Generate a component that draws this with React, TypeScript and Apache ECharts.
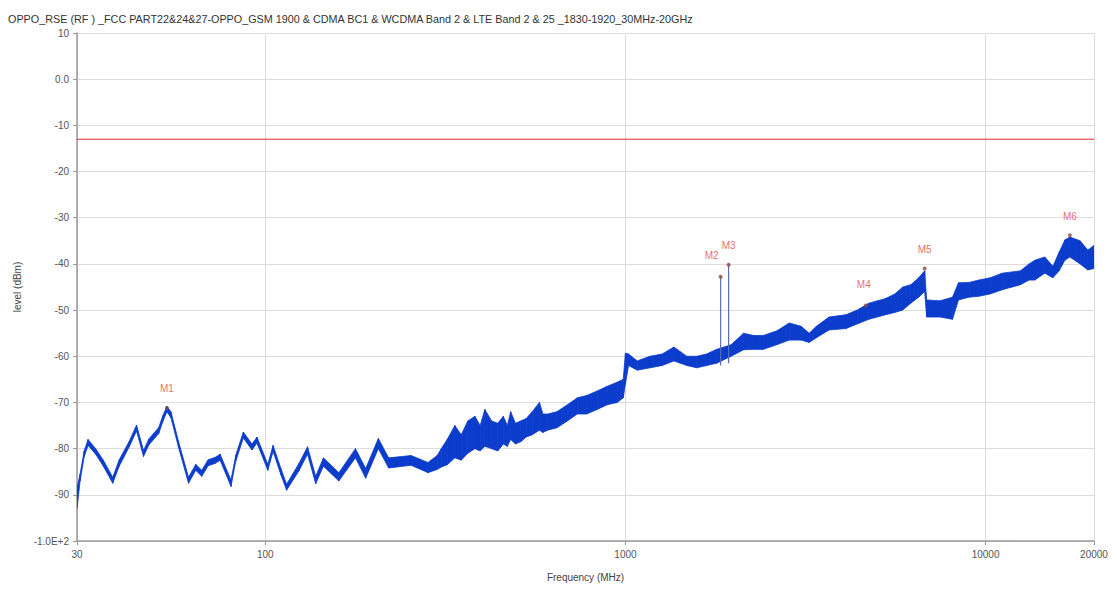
import React, { useEffect, useRef } from "react";
import * as echarts from "echarts";

const TITLE =
  "OPPO_RSE (RF ) _FCC PART22&24&27-OPPO_GSM 1900 & CDMA BC1 & WCDMA Band 2 & LTE Band 2 & 25 _1830-1920_30MHz-20GHz";

// Frequency points (MHz) of the measured trace
const freqs = [
  30, 30.6, 31.4, 32.2, 33.8, 35.5, 37.7, 39.3, 41.9, 43.9,
  45.9, 47.5, 50.6, 51.9, 53.3, 54.7, 57.4, 61.2, 64.1, 66.6,
  69.4, 72.5, 74.9, 80.3, 82.8, 86.9, 91.8, 94.8, 101.6, 105.1,
  110.5, 114.6, 124, 131, 138, 145, 160, 178, 190, 206,
  220, 254, 283, 300, 308, 320, 336, 350, 365, 382,
  395, 407, 425, 442, 458, 470, 480, 495, 512, 530,
  551, 577, 590, 608, 645, 690, 735, 780, 835, 890,
  949, 986, 1000, 1020, 1078, 1170, 1265, 1363, 1420, 1480,
  1578, 1680, 1792, 1965, 2128, 2270, 2415, 2632, 2850, 3075,
  3237, 3390, 3676, 4096, 4400, 4741, 5275, 5600, 5889, 6200,
  6520, 6773, 6860, 7470, 8094, 8408, 9000, 9580, 10300, 11120,
  12500, 13200, 13710, 14600, 15380, 16000, 16600, 17140, 18300, 19220,
  20000,
];
// Upper edge of the trace (dBm)
const hiLevels = [
  -88.5, -85.5, -80.5, -78, -80, -82.5, -86.2, -82.4, -78.4, -74.9,
  -80.4, -77.9, -75.4, -72.9, -70.8, -72, -78.4, -86.2, -83.4, -84.7,
  -82.4, -81.9, -81.2, -86.8, -81.4, -76.4, -79, -77.5, -83.4, -79.3,
  -84.3, -87.7, -83.2, -79.6, -86, -82, -85.2, -80, -84.3, -77.8,
  -82, -81.5, -83, -81.5, -80, -78, -75, -77, -74, -73,
  -75, -71.5, -74, -74.5, -73, -75, -72, -74.5, -74, -73.5,
  -72, -70, -72.5, -72.5, -72, -70.5, -69, -68.5, -67.5, -66.5,
  -65.6, -65, -59.3, -59.5, -61, -60, -59.5, -58, -59, -60,
  -60, -59.5, -58.5, -57.5, -55, -55.5, -55.5, -54.5, -52.8, -53.5,
  -55, -53.5, -51.5, -51, -50, -48.5, -47.5, -46.5, -45, -44.5,
  -43, -41.5, -47.8, -48, -47.2, -44.1, -44, -43.5, -43, -42,
  -41.5, -40, -39.2, -38.5, -40.5, -37.5, -34.8, -34.2, -35, -37,
  -36,
];
// Lower edge of the trace (dBm)
const loLevels = [
  -93, -87, -81.8, -79.3, -81.2, -83.8, -87.5, -83.8, -79.6, -76.2,
  -81.7, -79.2, -76.7, -74.2, -72, -73.3, -79.7, -87.5, -84.7, -86,
  -83.7, -83.2, -82.5, -88.2, -82.7, -77.7, -80.3, -78.8, -84.7, -80.6,
  -85.7, -89, -84.8, -81.2, -87.6, -83.8, -87, -82, -86.4, -80,
  -84.2, -83.6, -85.2, -84.5, -84, -83.5, -82, -82.5, -81, -80,
  -80.5, -79.5, -80, -80.5, -79, -79.5, -78, -79, -78.5, -77.5,
  -77, -76, -76.5, -76, -75.5, -74, -72.5, -72.5, -71.5, -70.5,
  -70, -69, -66, -62, -63, -62.5, -62, -61, -61.5, -62,
  -62.5, -62, -61.5, -60, -58.6, -58.5, -58.5, -57.5, -56.5, -56.5,
  -57, -56, -54.3, -54, -53, -52, -51, -50.5, -50, -48.5,
  -47.2, -46, -51.5, -51.5, -52, -47.8, -47.2, -47, -46.5, -45.6,
  -44.5, -43.5, -43.5, -42, -43, -41.5, -39.2, -38.5, -40, -41.3,
  -41,
];

// Narrow emission spikes (M2, M3)
const spikeFreqs = [1838, 1934];
const spikeBase = [-62, -61.5];
const spikeTop = [-42.8, -40.2];

// Markers
const markerNames = ["M1", "M2", "M3", "M4", "M5", "M6"];
const markerFreqs = [53.3, 1838, 1934, 4650, 6773, 17140];
const markerLevels = [-71.2, -42.8, -40.2, -49, -41, -33.8];

// Limit line
const limitFreqs = [30, 20000];
const limitLevels = [-13, -13];

const xTickLabels = [30, 100, 1000, 10000, 20000];

export default function App() {
  const ref = useRef<HTMLDivElement>(null);

  useEffect(() => {
    if (!ref.current) return;
    const chart = echarts.init(ref.current, undefined, { renderer: "svg" });
    const font = "Liberation Sans";
    const blue = "#0b3ccc";

    const bandData = freqs.map((f, i) => [f, hiLevels[i], loLevels[i]]);

    const spikeSeries = spikeFreqs.map((f, i) => ({
      type: "line",
      name: "spike" + i,
      data: [
        [f, spikeBase[i]],
        [f, spikeTop[i]],
      ],
      symbol: "none",
      lineStyle: { color: "#5a6db5", width: 1.2 },
      z: 4,
    }));

    const markerData = markerFreqs.map((f, i) => ({
      value: [f, markerLevels[i]],
      name: markerNames[i],
      label: i === 1 ? { offset: [-9, -2] } : i === 3 ? { offset: [-2, -2] } : {},
    }));

    chart.setOption({
      animation: false,
      backgroundColor: "#ffffff",
      title: {
        text: TITLE,
        left: 3,
        top: 8,
        textStyle: { fontSize: 10.8, fontWeight: "normal", color: "#333", fontFamily: font },
      },
      grid: { left: 77, right: 23, top: 33, bottom: 52 },
      xAxis: {
        type: "log",
        min: 30,
        max: 20000,
        logBase: 10,
        name: "Frequency (MHz)",
        nameLocation: "middle",
        nameGap: 31,
        nameTextStyle: { fontSize: 10, color: "#444", fontFamily: font },
        axisLine: { show: true, onZero: false, lineStyle: { color: "#999", width: 1.5 } },
        axisTick: { show: true, length: 4, lineStyle: { color: "#999" } },
        axisLabel: {
          fontSize: 10,
          color: "#555",
          fontFamily: font,
          showMinLabel: true,
          showMaxLabel: true,
          formatter: (v: number) => {
            const r = xTickLabels.find((t) => Math.abs(t - v) / t < 0.01);
            return r !== undefined ? String(r) : "";
          },
        },
        splitLine: { show: true, lineStyle: { color: "#dcdcdc", width: 1 } },
        minorTick: { show: false },
      },
      yAxis: {
        type: "value",
        min: -100,
        max: 10,
        interval: 10,
        name: "level (dBm)",
        nameLocation: "middle",
        nameGap: 50,
        nameTextStyle: { fontSize: 10, color: "#444", fontFamily: font },
        axisLine: { show: true, onZero: false, lineStyle: { color: "#999", width: 1.5 } },
        axisTick: { show: true, length: 4, lineStyle: { color: "#999" } },
        axisLabel: {
          fontSize: 10,
          color: "#555",
          fontFamily: font,
          formatter: (v: number) => {
            if (v === 0) return "0.0";
            if (v === -100) return "-1.0E+2";
            return String(v);
          },
        },
        splitLine: { show: true, lineStyle: { color: "#dcdcdc", width: 1 } },
      },
      series: [
        {
          type: "line",
          name: "limit",
          data: limitFreqs.map((f, i) => [f, limitLevels[i]]),
          symbol: "none",
          lineStyle: { color: "#e02828", width: 1 },
          itemStyle: { color: "#e02828" },
          z: 2,
        },
        {
          type: "custom",
          name: "trace",
          data: bandData,
          encode: { x: 0, y: [1, 2] },
          clip: true,
          z: 3,
          renderItem: (params: any, api: any) => {
            const i = params.dataIndex;
            if (i >= freqs.length - 1) return null;
            const a = api.coord([freqs[i], hiLevels[i]]);
            const b = api.coord([freqs[i + 1], hiLevels[i + 1]]);
            const c = api.coord([freqs[i + 1], loLevels[i + 1]]);
            const d = api.coord([freqs[i], loLevels[i]]);
            return {
              type: "polygon",
              shape: { points: [a, b, c, d] },
              style: { fill: blue, stroke: blue, lineWidth: 0.8 },
            };
          },
        },
        ...spikeSeries,
        {
          type: "scatter",
          name: "markers",
          data: markerData,
          symbol: "circle",
          symbolSize: 4,
          itemStyle: { color: "#8a4848" },
          label: {
            show: true,
            position: "top",
            distance: 12,
            formatter: (p: any) => p.name,
            color: "#e04848",
            fontSize: 10,
            fontFamily: font,
          },
          z: 5,
        },
      ],
    });

    return () => chart.dispose();
  }, []);

  return (
    <div
      ref={ref}
      style={{ position: "fixed", left: 0, top: 0, width: 1117, height: 593 }}
    />
  );
}
